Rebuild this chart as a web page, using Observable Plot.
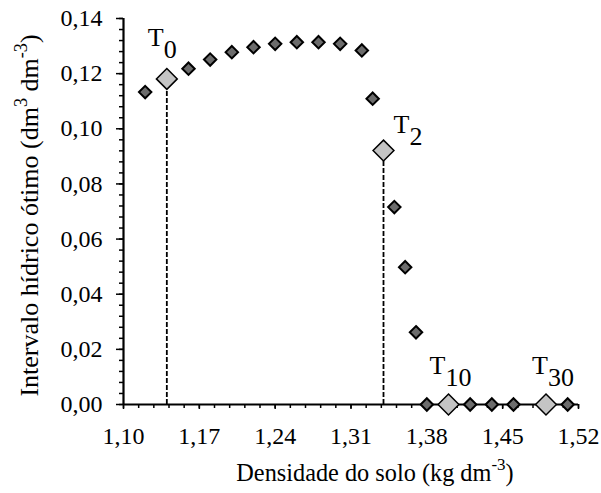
<!DOCTYPE html>
<html><head><meta charset="utf-8">
<script src="https://cdn.jsdelivr.net/npm/d3@7"></script>
<script src="https://cdn.jsdelivr.net/npm/@observablehq/plot@0.6"></script>
<style>
html,body{margin:0;padding:0;background:#fff}
svg{display:block}
#chart svg, #chart svg text{font-family:"Liberation Serif","Times New Roman",serif !important}
</style>
</head><body><div id="chart"></div>
<script>
// Data
const densidade = [1.12,1.14,1.16,1.18,1.20,1.22,1.24,1.26,1.28,1.30,1.32,1.33,1.34,1.35,1.36,1.37,1.38,1.40,1.42,1.44,1.46,1.49,1.51];
const iho = [0.1133,0.1181,0.1218,0.1251,0.1278,0.1296,0.1308,0.1314,0.1314,0.1308,0.1284,0.1109,0.0921,0.0716,0.0498,0.0262,0,0,0,0,0,0,0];
const tNames = ["T_{0}","T_{2}","T_{10}","T_{30}"];
const tDensidade = [1.14,1.34,1.40,1.49];
const tIho = [0.1181,0.0921,0,0];
const xTicks = [1.10,1.17,1.24,1.31,1.38,1.45,1.52];
const yTicks = [0,0.02,0.04,0.06,0.08,0.10,0.12,0.14];
const xTitle = "Densidade do solo (kg dm^{-3})";
const yTitle = "Intervalo hídrico ótimo (dm^{3} dm^{-3})";

const comma = d => d.toFixed(2).replace(".", ",");
const points = densidade.map((x, i) => ({x, y: iho[i]}));
const tPoints = tDensidade.map((x, i) => ({x, y: tIho[i], name: tNames[i]}));
const smallPoints = points.filter(p => !tDensidade.includes(p.x));
const xMinor = d3.range(0, 31).map(i => 1.10 + i * 0.014);
const yMinor = d3.range(0, 36).map(i => i * 0.004);

// label offsets (pixels) relative to the highlighted markers
const tOffset = [[-19, -33], [10, -18], [-19, -31], [-14, -31]];

const FONT = "'Liberation Serif', 'Times New Roman', serif";
const chart = Plot.plot({
  width: 601, height: 493,
  marginLeft: 123, marginRight: 23, marginTop: 18, marginBottom: 89,
  style: {fontFamily: FONT, fontSize: "24px", color: "#000", background: "#fff"},
  x: {domain: [1.10, 1.52]},
  y: {domain: [0, 0.14]},
  marks: [
    Plot.axisX({ticks: xMinor, tickSize: 4, strokeWidth: 1.5, text: null, label: null}),
    Plot.axisX({ticks: xTicks, tickSize: 5, strokeWidth: 1.5, tickPadding: 17, tickFormat: comma, fontSize: 24, label: null}),
    Plot.axisY({ticks: yMinor, tickSize: 4, strokeWidth: 1.5, text: null, label: null}),
    Plot.axisY({ticks: yTicks, tickSize: 7, strokeWidth: 1.5, tickPadding: 14, tickFormat: comma, fontSize: 24, label: null}),
    Plot.ruleX([1.10], {y1: 0, y2: 0.14, stroke: "#000", strokeWidth: 2.2}),
    Plot.ruleY([0], {stroke: "#000", strokeWidth: 2.2}),
    Plot.ruleX(tPoints.filter(d => d.y > 0), {x: "x", y1: 0, y2: "y", stroke: "#000", strokeWidth: 1.8, strokeDasharray: "5,2"}),
    Plot.dot(smallPoints, {x: "x", y: "y", symbol: "diamond2", r: 5.6, fill: "#6c6c6c", stroke: "#000", strokeWidth: 2}),
    Plot.dot(tPoints, {x: "x", y: "y", symbol: "diamond2", r: 9.4, fill: "#c4c4c4", stroke: "#000", strokeWidth: 1.5}),
    ...tPoints.map((d, i) => Plot.text([d], {x: "x", y: "y", text: "name", textAnchor: "start", lineAnchor: "bottom",
      dx: tOffset[i][0], dy: tOffset[i][1], fontSize: 26, fill: "#000"})),
    Plot.text([xTitle], {frameAnchor: "bottom", textAnchor: "middle", dx: 24, dy: 76, lineAnchor: "bottom", fontSize: 24.3, fill: "#000"}),
    Plot.text([yTitle], {frameAnchor: "left", textAnchor: "middle", dx: -94, dy: 4, rotate: -90, fontSize: 26, fill: "#000"})
  ]
});

// turn ^{..} and _{..} markup into real super/subscript tspans
function richify(svg) {
  svg.querySelectorAll("text").forEach(t => {
    const s = t.textContent;
    if (!/[\^_]\{/.test(s)) return;
    const fs = parseFloat(getComputedStyle(t).fontSize) || 22;
    while (t.firstChild) t.removeChild(t.firstChild);
    const re = /([\^_])\{([^}]*)\}|([^\^_]+)/g;
    let m, shift = 0;
    const ns = "http://www.w3.org/2000/svg";
    while ((m = re.exec(s))) {
      const sp = document.createElementNS(ns, "tspan");
      if (m[3]) {
        sp.textContent = m[3];
        if (shift) sp.setAttribute("dy", -shift);
        shift = 0;
      } else if (m[1] === "^") {
        sp.textContent = m[2];
        sp.setAttribute("font-size", fs * 0.7);
        const d = -0.42 * fs;
        sp.setAttribute("dy", d - shift);
        shift = d;
      } else {
        sp.textContent = m[2];
        const d = 0.48 * fs;
        sp.setAttribute("dy", d - shift);
        shift = d;
      }
      t.appendChild(sp);
    }
  });
}
document.getElementById("chart").appendChild(chart);
richify(chart);
</script>
</body></html>
